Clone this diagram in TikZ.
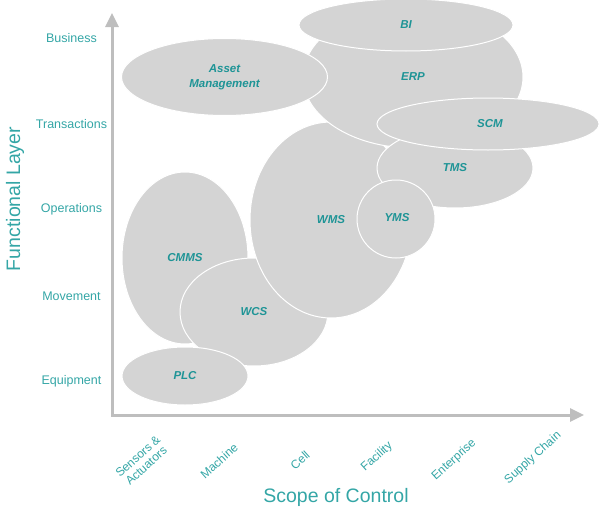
\documentclass[tikz,border=0pt]{standalone}
\usepackage{fontspec}
\setmainfont{Liberation Sans}
\usetikzlibrary{shapes.geometric,arrows.meta}
\definecolor{tealtxt}{RGB}{52,166,166}
\definecolor{tealin}{RGB}{30,148,150}
\definecolor{blobfill}{RGB}{212,212,212}
\definecolor{axisgray}{RGB}{190,190,190}
\tikzset{
  blob/.style={ellipse, fill=blobfill, draw=white, line width=1pt, inner sep=0pt,
    text=tealin, font=\fontsize{11.5}{15}\selectfont\bfseries\itshape, align=center},
  ylab/.style={text=tealtxt, font=\fontsize{12.5}{14}\selectfont, anchor=center},
  xlab/.style={text=tealtxt, font=\fontsize{12}{12.5}\selectfont, rotate=42, align=center, anchor=center},
  title/.style={text=tealtxt, font=\fontsize{19.5}{22}\selectfont},
  axis/.style={draw=axisgray, line width=3pt}
}
\begin{document}
\begin{tikzpicture}[x=1pt,y=-1pt]
\useasboundingbox (0,0) rectangle (600,514);
% ellipses (back to front)
\node[blob, minimum width=126pt, minimum height=172pt] (cmms) at (185,258) {CMMS};
\node[blob, minimum width=148pt, minimum height=108pt] (wcs) at (254,312) {WCS};
\node[blob, minimum width=162pt, minimum height=196pt] (wms) at (331,220) {WMS};
\node[blob, minimum width=220pt, minimum height=142pt] (erp) at (413,77) {ERP};
\node[blob, minimum width=214pt, minimum height=52pt] (bi) at (406,25) {BI};
\node[blob, minimum width=206pt, minimum height=77pt] (asset) at (224.5,77) {Asset\\Management};
\node[blob, minimum width=156pt, minimum height=80pt] (tms) at (455,168) {TMS};
\node[blob, minimum width=222pt, minimum height=52pt] (scm) at (488,124) {};
\node[text=tealin, font=\fontsize{11.5}{13}\selectfont\bfseries\itshape] (scmlab) at (490,124) {SCM};
\node[blob, minimum width=78pt, minimum height=78pt] (yms) at (396,219) {};
\node[text=tealin, font=\fontsize{11.5}{13}\selectfont\bfseries\itshape] (ymslab) at (397,218) {YMS};
\node[blob, minimum width=126pt, minimum height=58pt] (plc) at (185,376) {PLC};
% axes
\coordinate (ytip) at (112,13);
\coordinate (o) at (112,415);
\coordinate (xtip) at (584,415);
\draw[axis, {Triangle[width=13pt,length=14pt]}-{Triangle[width=13pt,length=14pt]}, line join=miter] (ytip) -- (o) -- (xtip);
% y labels
\node[ylab] (business) at (71.5,38) {Business};
\node[ylab] (transactions) at (71.5,124) {Transactions};
\node[ylab] (operations) at (71.5,209) {Operations};
\node[ylab] (movement) at (71.5,296.5) {Movement};
\node[ylab] (equipment) at (71.5,381.5) {Equipment};
% x labels
\node[xlab] (sensors) at (142,461) {Sensors \&\\Actuators};
\node[xlab] (machine) at (219,461) {Machine};
\node[xlab] (cell) at (300,460) {Cell};
\node[xlab] (facility) at (377,457) {Facility};
\node[xlab] (enterprise) at (454,460) {Enterprise};
\node[xlab] (supply) at (533,458) {Supply Chain};
% titles
\node[title, rotate=90] (ftitle) at (15,199) {Functional Layer};
\node[title] (stitle) at (336,497) {Scope of Control};
\end{tikzpicture}
\end{document}
